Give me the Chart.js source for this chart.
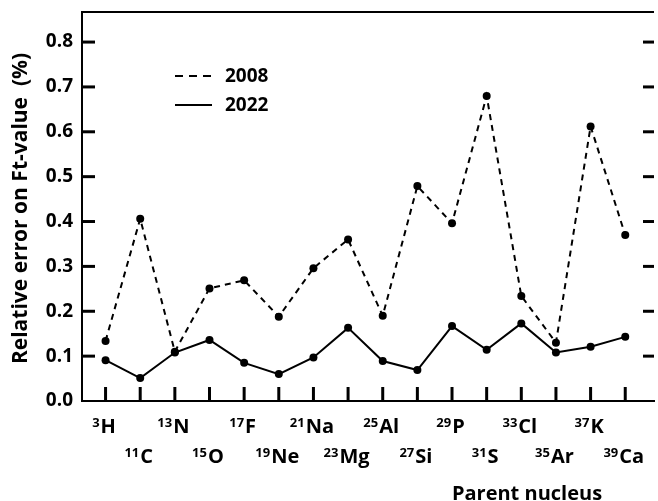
<!DOCTYPE html>
<html><head><meta charset="utf-8">
<script src="https://cdn.jsdelivr.net/npm/chart.js@4.4.0/dist/chart.umd.min.js"></script>
<style>html,body{margin:0;padding:0;background:#fff;}#wrap{width:658px;height:501px;position:relative;}</style>
</head><body><div id="wrap"><canvas id="c"></canvas></div>
<script>
const massNumbers = ['3','11','13','15','17','19','21','23','25','27','29','31','33','35','37','39'];
const elements = ['H','C','N','O','F','Ne','Na','Mg','Al','Si','P','S','Cl','Ar','K','Ca'];
const err2008 = [0.134,0.406,0.110,0.251,0.269,0.188,0.296,0.360,0.190,0.479,0.396,0.680,0.234,0.130,0.612,0.370];
const err2022 = [0.091,0.051,0.108,0.136,0.085,0.060,0.097,0.163,0.089,0.069,0.167,0.114,0.173,0.108,0.121,0.143];
const yTickValues = [0.0,0.1,0.2,0.3,0.4,0.5,0.6,0.7,0.8];
const seriesNames = ['2008','2022'];
const yTitle = 'Relative error on Ft-value  (%)';
const xTitle = 'Parent nucleus';

const FONT = '"Open Sans", "DejaVu Sans", sans-serif';

const toPts = arr => arr.map((v,i)=>({x:i,y:v}));

const decor = {
  id:'decor',
  afterDraw(chart){
    const ctx = chart.ctx, a = chart.chartArea;
    const xs = chart.scales.x, ys = chart.scales.y;
    ctx.save();
    ctx.strokeStyle = '#000';
    // top border
    ctx.lineWidth = 2;
    ctx.beginPath(); ctx.moveTo(a.left-1, a.top); ctx.lineTo(a.right, a.top); ctx.stroke();
    // y ticks, left and right (inward)
    ctx.lineWidth = 3;
    yTickValues.forEach(v=>{
      const y = ys.getPixelForValue(v);
      if (v===0) return;
      ctx.beginPath(); ctx.moveTo(a.left, y); ctx.lineTo(a.left+13, y); ctx.stroke();
      ctx.beginPath(); ctx.moveTo(a.right-11, y); ctx.lineTo(a.right, y); ctx.stroke();
    });
    // x ticks (inward)
    massNumbers.forEach((m,i)=>{
      const x = xs.getPixelForValue(i);
      ctx.beginPath(); ctx.moveTo(x, a.bottom); ctx.lineTo(x, a.bottom-14); ctx.stroke();
    });
    // x labels with superscripts
    ctx.fillStyle = '#000';
    ctx.textBaseline = 'alphabetic';
    ctx.textAlign = 'left';
    massNumbers.forEach((m,i)=>{
      const x = xs.getPixelForValue(i);
      const base = a.bottom + (i%2===0 ? 32 : 62);
      ctx.font = 'bold 13px ' + FONT;
      const ws = ctx.measureText(m).width;
      ctx.font = 'bold 20px ' + FONT;
      const we = ctx.measureText(elements[i]).width;
      const x0 = x - (ws+we)/2 - 2;
      ctx.font = 'bold 13px ' + FONT;
      ctx.fillText(m, x0, base-6);
      ctx.font = 'bold 20px ' + FONT;
      ctx.fillText(elements[i], x0+ws+1, base);
    });
    // x title
    ctx.font = 'bold 20px ' + FONT;
    ctx.textAlign = 'center';
    ctx.fillText(xTitle, a.left + 445, a.bottom + 99);
    // y title
    ctx.save();
    ctx.translate(21, (a.top+a.bottom)/2 + 2);
    ctx.rotate(-Math.PI/2);
    ctx.textAlign = 'center';
    ctx.textBaseline = 'middle';
    ctx.font = 'bold 21px ' + FONT;
    ctx.fillText(yTitle, 0, 0);
    ctx.restore();
    // legend
    const lx0 = a.left + 93, lx1 = a.left + 130, tx = a.left + 143;
    const ly = [a.top + 64, a.top + 93];
    ctx.lineWidth = 2;
    ctx.setLineDash([8,6]);
    ctx.beginPath(); ctx.moveTo(lx0, ly[0]); ctx.lineTo(lx1, ly[0]); ctx.stroke();
    ctx.setLineDash([]);
    ctx.beginPath(); ctx.moveTo(lx0, ly[1]); ctx.lineTo(lx1, ly[1]); ctx.stroke();
    ctx.font = 'bold 19px ' + FONT;
    ctx.textAlign = 'left';
    ctx.textBaseline = 'middle';
    ctx.fillText(seriesNames[0], tx, ly[0]+1);
    ctx.fillText(seriesNames[1], tx, ly[1]+1);
    ctx.restore();
  }
};

new Chart(document.getElementById('c'), {
  type:'line',
  data:{
    datasets:[
      {label:seriesNames[0], data:toPts(err2008), borderColor:'#000', backgroundColor:'#000',
       borderWidth:2, borderDash:[6,5], pointRadius:4, pointBorderWidth:0, pointBackgroundColor:'#000', tension:0},
      {label:seriesNames[1], data:toPts(err2022), borderColor:'#000', backgroundColor:'#000',
       borderWidth:2, pointRadius:4, pointBorderWidth:0, pointBackgroundColor:'#000', tension:0}
    ]
  },
  options:{
    responsive:true, maintainAspectRatio:false, animation:false,
    layout:{padding:{top:12,right:0,left:0,bottom:0}},
    plugins:{legend:{display:false}, tooltip:{enabled:false}},
    scales:{
      x:{type:'linear', min:-0.68, max:15.83,
         grid:{display:false, drawTicks:false},
         border:{display:true, color:'#000', width:2},
         ticks:{display:false},
         afterFit(s){ s.height = 100; s.paddingLeft = 0; s.paddingRight = 0; }},
      y:{type:'linear', min:0, max:0.867,
         grid:{display:false, drawTicks:false},
         border:{display:true, color:'#000', width:2},
         afterBuildTicks(s){ s.ticks = yTickValues.map(v=>({value:v})); },
         ticks:{color:'#000', padding:9, font:{family:FONT, size:19, weight:'bold'},
                callback:v=>Number(v).toFixed(1)},
         afterFit(s){ s.width = 82; s.paddingTop = 0; s.paddingBottom = 0; }}
    }
  },
  plugins:[decor]
});
</script></body></html>
